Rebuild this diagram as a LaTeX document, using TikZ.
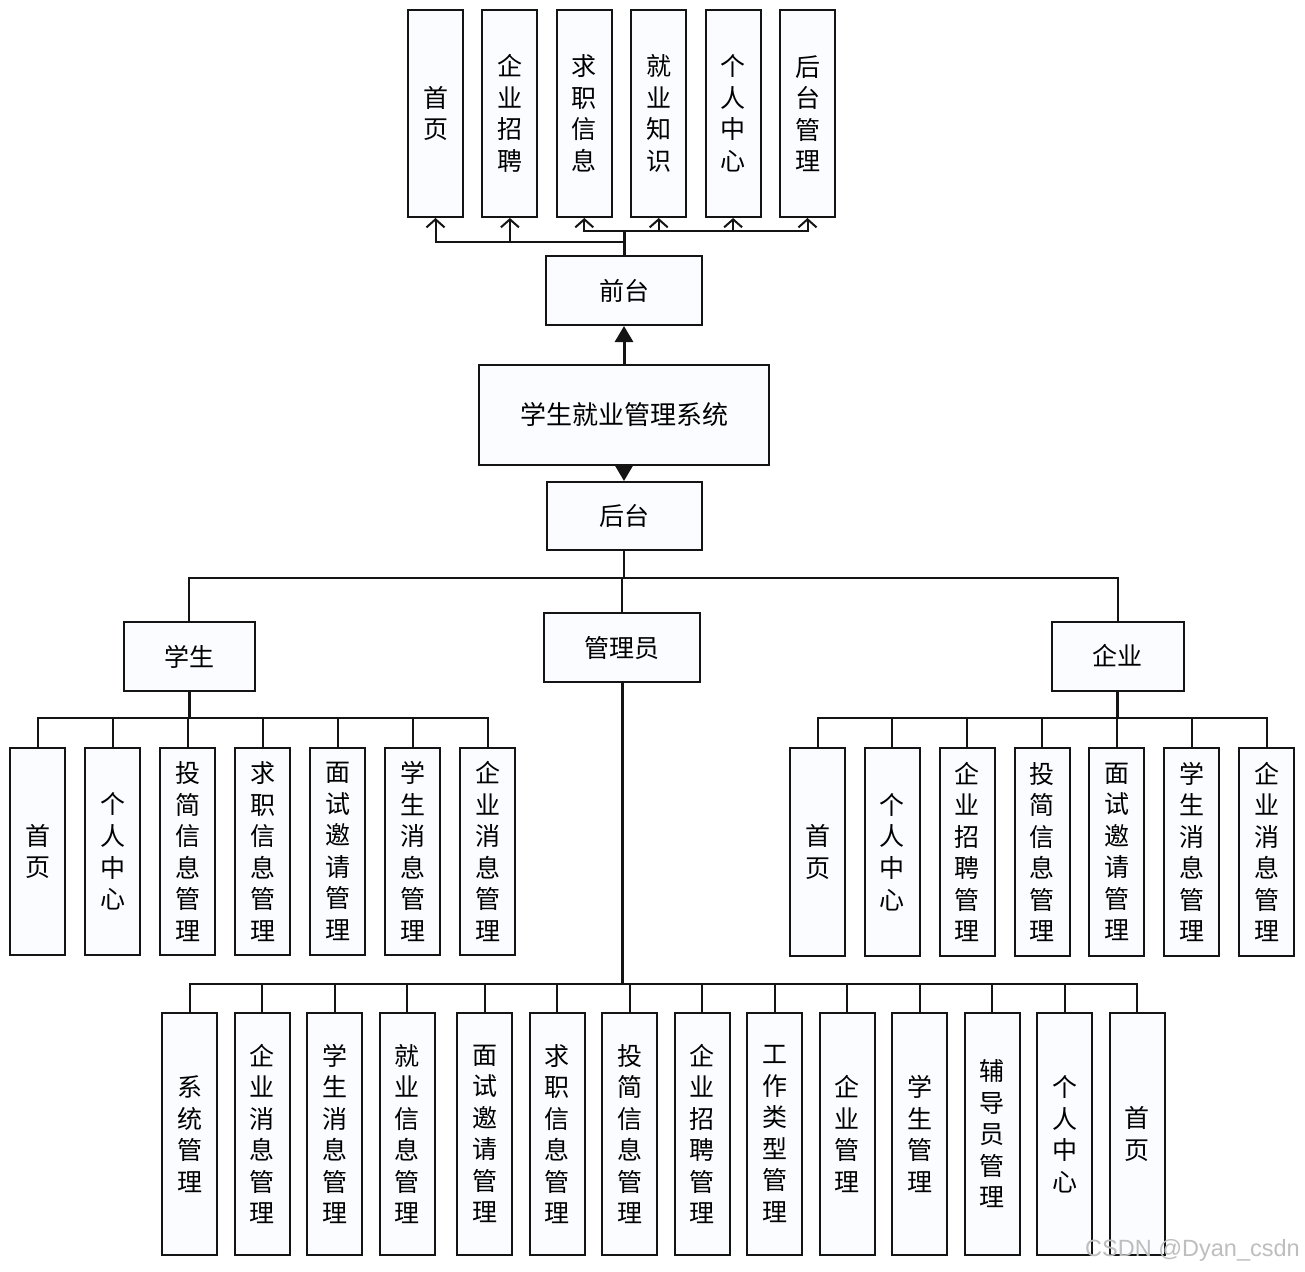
\documentclass[tikz,border=0pt]{standalone}
\usepackage{fontspec}
\newfontfamily\cjk{Noto Sans CJK SC}
\setmainfont{Liberation Sans}
\usetikzlibrary{arrows.meta}
\definecolor{boxfill}{RGB}{251,252,255}
\definecolor{edge}{RGB}{20,20,20}
\definecolor{wm}{RGB}{190,190,190}
\tikzset{
  vbox/.style={draw=edge, line width=2pt, fill=boxfill, inner sep=0pt, align=center,
    minimum width=55pt, font=\cjk\fontsize{25}{31.5}\selectfont},
  hbox/.style={draw=edge, line width=2pt, fill=boxfill, inner sep=0pt,
    font=\cjk\fontsize{25}{30}\selectfont},
  conn/.style={draw=edge, line width=2pt},
  stem/.style={draw=edge, line width=3pt},
  openarrow/.style={conn, -{Straight Barb[length=8pt,width=18pt]}},
  fillarrow/.style={stem, -{Triangle[length=16pt,width=18pt]}}
}
\begin{document}
\begin{tikzpicture}[x=1pt,y=-1pt]
\useasboundingbox (0,0) rectangle (1305,1271);
\fill[white] (0,0) rectangle (1305,1271);

% top row
\foreach \i/\t in {1/{首\\页},2/{企\\业\\招\\聘},3/{求\\职\\信\\息},4/{就\\业\\知\\识},5/{个\\人\\中\\心},6/{后\\台\\管\\理}}{
  \node[vbox, minimum height=207pt] (t\i) at ({435.5+74.4*(\i-1)},113.5) {\t};
}
\node[hbox, minimum width=156pt, minimum height=69pt] (qt) at (624,290.5) {前台};
\node[hbox, minimum width=290pt, minimum height=100pt, font=\cjk\fontsize{26}{30}\selectfont] (sys) at (624,415) {学生就业管理系统};
\node[hbox, minimum width=155pt, minimum height=68pt] (ht) at (624,516) {后台};

\node[hbox, minimum width=131pt, minimum height=69pt] (stu) at (189.3,656.5) {学生};
\node[hbox, minimum width=156pt, minimum height=69pt] (adm) at (622,647.5) {管理员};
\node[hbox, minimum width=132pt, minimum height=69pt] (ent) at (1117.5,656) {企业};

% student children
\foreach \i/\t in {1/{首\\页},2/{个\\人\\中\\心},3/{投\\简\\信\\息\\管\\理},4/{求\\职\\信\\息\\管\\理},5/{面\\试\\邀\\请\\管\\理},6/{学\\生\\消\\息\\管\\理},7/{企\\业\\消\\息\\管\\理}}{
  \node[vbox, minimum height=207pt] (s\i) at ({37.5+75*(\i-1)},851.5) {\t};
}
% enterprise children
\foreach \i/\t in {1/{首\\页},2/{个\\人\\中\\心},3/{企\\业\\招\\聘\\管\\理},4/{投\\简\\信\\息\\管\\理},5/{面\\试\\邀\\请\\管\\理},6/{学\\生\\消\\息\\管\\理},7/{企\\业\\消\\息\\管\\理}}{
  \node[vbox, minimum height=208pt] (e\i) at ({817.5+74.85*(\i-1)},852) {\t};
}
% admin children
\foreach \i/\x/\t in {1/189.5/{系\\统\\管\\理},2/262/{企\\业\\消\\息\\管\\理},3/334.5/{学\\生\\消\\息\\管\\理},4/407/{就\\业\\信\\息\\管\\理},
  5/484.5/{面\\试\\邀\\请\\管\\理},6/557/{求\\职\\信\\息\\管\\理},7/629.5/{投\\简\\信\\息\\管\\理},8/702/{企\\业\\招\\聘\\管\\理},
  9/774.5/{工\\作\\类\\型\\管\\理},10/847/{企\\业\\管\\理},11/919.5/{学\\生\\管\\理},12/992/{辅\\导\\员\\管\\理},
  13/1064.5/{个\\人\\中\\心},14/1137/{首\\页}}{
  \node[vbox, minimum height=242pt] (a\i) at (\x,1134) {\t};
}

% top connectors
\coordinate (tbU) at (624,231);
\coordinate (tbL) at (624,242);
\draw[stem] (qt.north) -- (tbU);
\foreach \i in {1,2}{ \draw[openarrow] (tbL) -| (t\i.south); }
\foreach \i in {3,...,6}{ \draw[openarrow] (tbU) -| (t\i.south); }

\draw[fillarrow] (sys.north) -- (qt.south);
\draw[fillarrow] (sys.south) -- (ht.north);

% main bus
\coordinate (mb) at (624,578);
\draw[conn] (ht.south) -- (mb);
\draw[conn] (mb) -| (stu.north);
\draw[conn] (mb) -| (ent.north);
\draw[conn] (adm.north |- mb) -- (adm.north);

% student bus
\coordinate (sb) at (189.3,718);
\draw[stem] (stu.south) -- (sb);
\foreach \i in {1,...,7}{ \draw[conn] (sb) -| (s\i.north); }
% enterprise bus
\coordinate (eb) at (1117.5,718);
\draw[stem] (ent.south) -- (eb);
\foreach \i in {1,...,7}{ \draw[conn] (eb) -| (e\i.north); }
% admin bus
\coordinate (ab) at (622,984);
\draw[stem] (adm.south) -- (ab);
\foreach \i in {1,...,14}{ \draw[conn] (ab) -| (a\i.north); }

% watermark
\node[anchor=base west, inner sep=0pt, text=wm, font=\fontsize{23.5}{28}\selectfont] (wmk) at (1085,1256) {CSDN @Dyan\_csdn};
\end{tikzpicture}
\end{document}
